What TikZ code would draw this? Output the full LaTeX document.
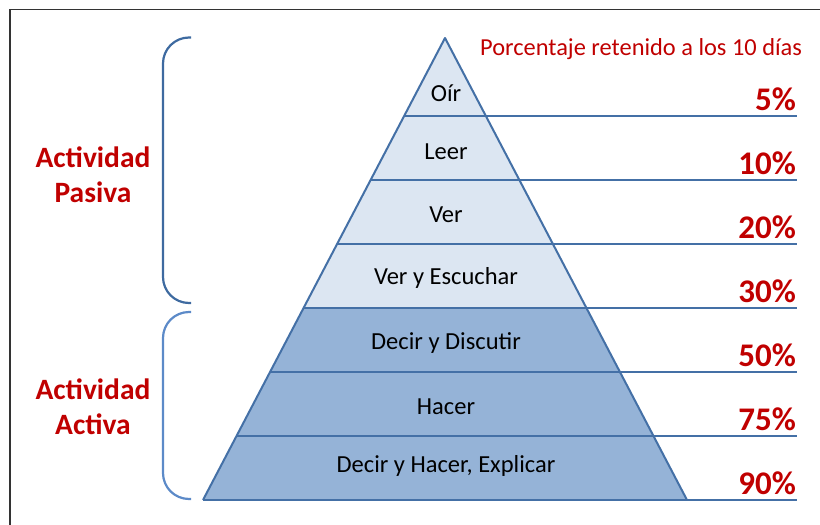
\documentclass[tikz,border=0pt]{standalone}
\usepackage{fontspec}
\setmainfont{Carlito}
\usetikzlibrary{calc}
\definecolor{edgeblue}{RGB}{68,112,166}
\definecolor{lightfill}{RGB}{220,230,242}
\definecolor{darkfill}{RGB}{149,179,215}
\definecolor{braceA}{RGB}{62,106,160}
\definecolor{braceB}{RGB}{92,138,200}
\definecolor{redtxt}{RGB}{192,0,0}
\tikzset{
  level/.style={font=\fontsize{24.5}{28}\selectfont, text=black, anchor=center},
  pct/.style={font=\bfseries\fontsize{33}{37}\selectfont, text=redtxt, anchor=base east, inner sep=0pt},
  side/.style={font=\bfseries\fontsize{29.5}{35}\selectfont, text=redtxt, align=center, anchor=center},
  band/.style={draw=edgeblue, line width=2pt},
  brace/.style={line width=2.2pt, rounded corners=26pt},
}
\begin{document}
\begin{tikzpicture}[x=1pt,y=-1pt]
\useasboundingbox (0,0) rectangle (820,525);
% frame
\draw[black!80, line width=1.8pt] (10,525) -- (10,9.5) -- (820,9.5);
% pyramid corners
\coordinate (apex) at (445,38);
\coordinate (bl) at (203,500);
\coordinate (br) at (687,500);
% band edges on the two sides
\foreach \k in {0,...,6} {
  \pgfmathsetmacro{\yy}{116+64*\k}
  \pgfmathsetmacro{\t}{(\yy-38)/462}
  \coordinate (L\k) at ($(apex)!\t!(bl)$);
  \coordinate (R\k) at ($(apex)!\t!(br)$);
}
% fills
\fill[lightfill] (apex) -- (L3) -- (R3) -- cycle;
\fill[darkfill] (L3) -- (bl) -- (br) -- (R3) -- cycle;
% outline
\draw[band, line join=round] (bl) -- (apex) -- (br);
% horizontal lines reaching the percentage column
\foreach \k in {0,...,6} {
  \draw[band] (L\k) -- (L\k -| 797,0);
}
% braces
\draw[brace, draw=braceA] (191,37.5) -| (163,170) |- (191,303);
\draw[brace, draw=braceB] (191,312) -| (163,410) |- (191,499);
% title
\node[font=\fontsize{24.4}{28}\selectfont, text=redtxt, anchor=base west, inner sep=0pt] (title) at (480,55) {Porcentaje retenido a los 10 días};
% side labels
\node[side] (pasiva) at (93,175) {Actividad\\Pasiva};
\node[side] (activa) at (93,407) {Actividad\\Activa};
% level labels
\node[level] (l1) at (446,93) {Oír};
\node[level] (l2) at (446,152) {Leer};
\node[level] (l3) at (446,215) {Ver};
\node[level] (l4) at (446,278) {Ver y Escuchar};
\node[level] (l5) at (446,343) {Decir y Discutir};
\node[level] (l6) at (446,407) {Hacer};
\node[level] (l7) at (446,466) {Decir y Hacer, Explicar};
% percentages
\node[pct] (p1) at (796,110) {5\%};
\node[pct] (p2) at (796,174) {10\%};
\node[pct] (p3) at (796,238) {20\%};
\node[pct] (p4) at (796,302) {30\%};
\node[pct] (p5) at (796,366) {50\%};
\node[pct] (p6) at (796,430) {75\%};
\node[pct] (p7) at (796,494) {90\%};
\end{tikzpicture}
\end{document}
